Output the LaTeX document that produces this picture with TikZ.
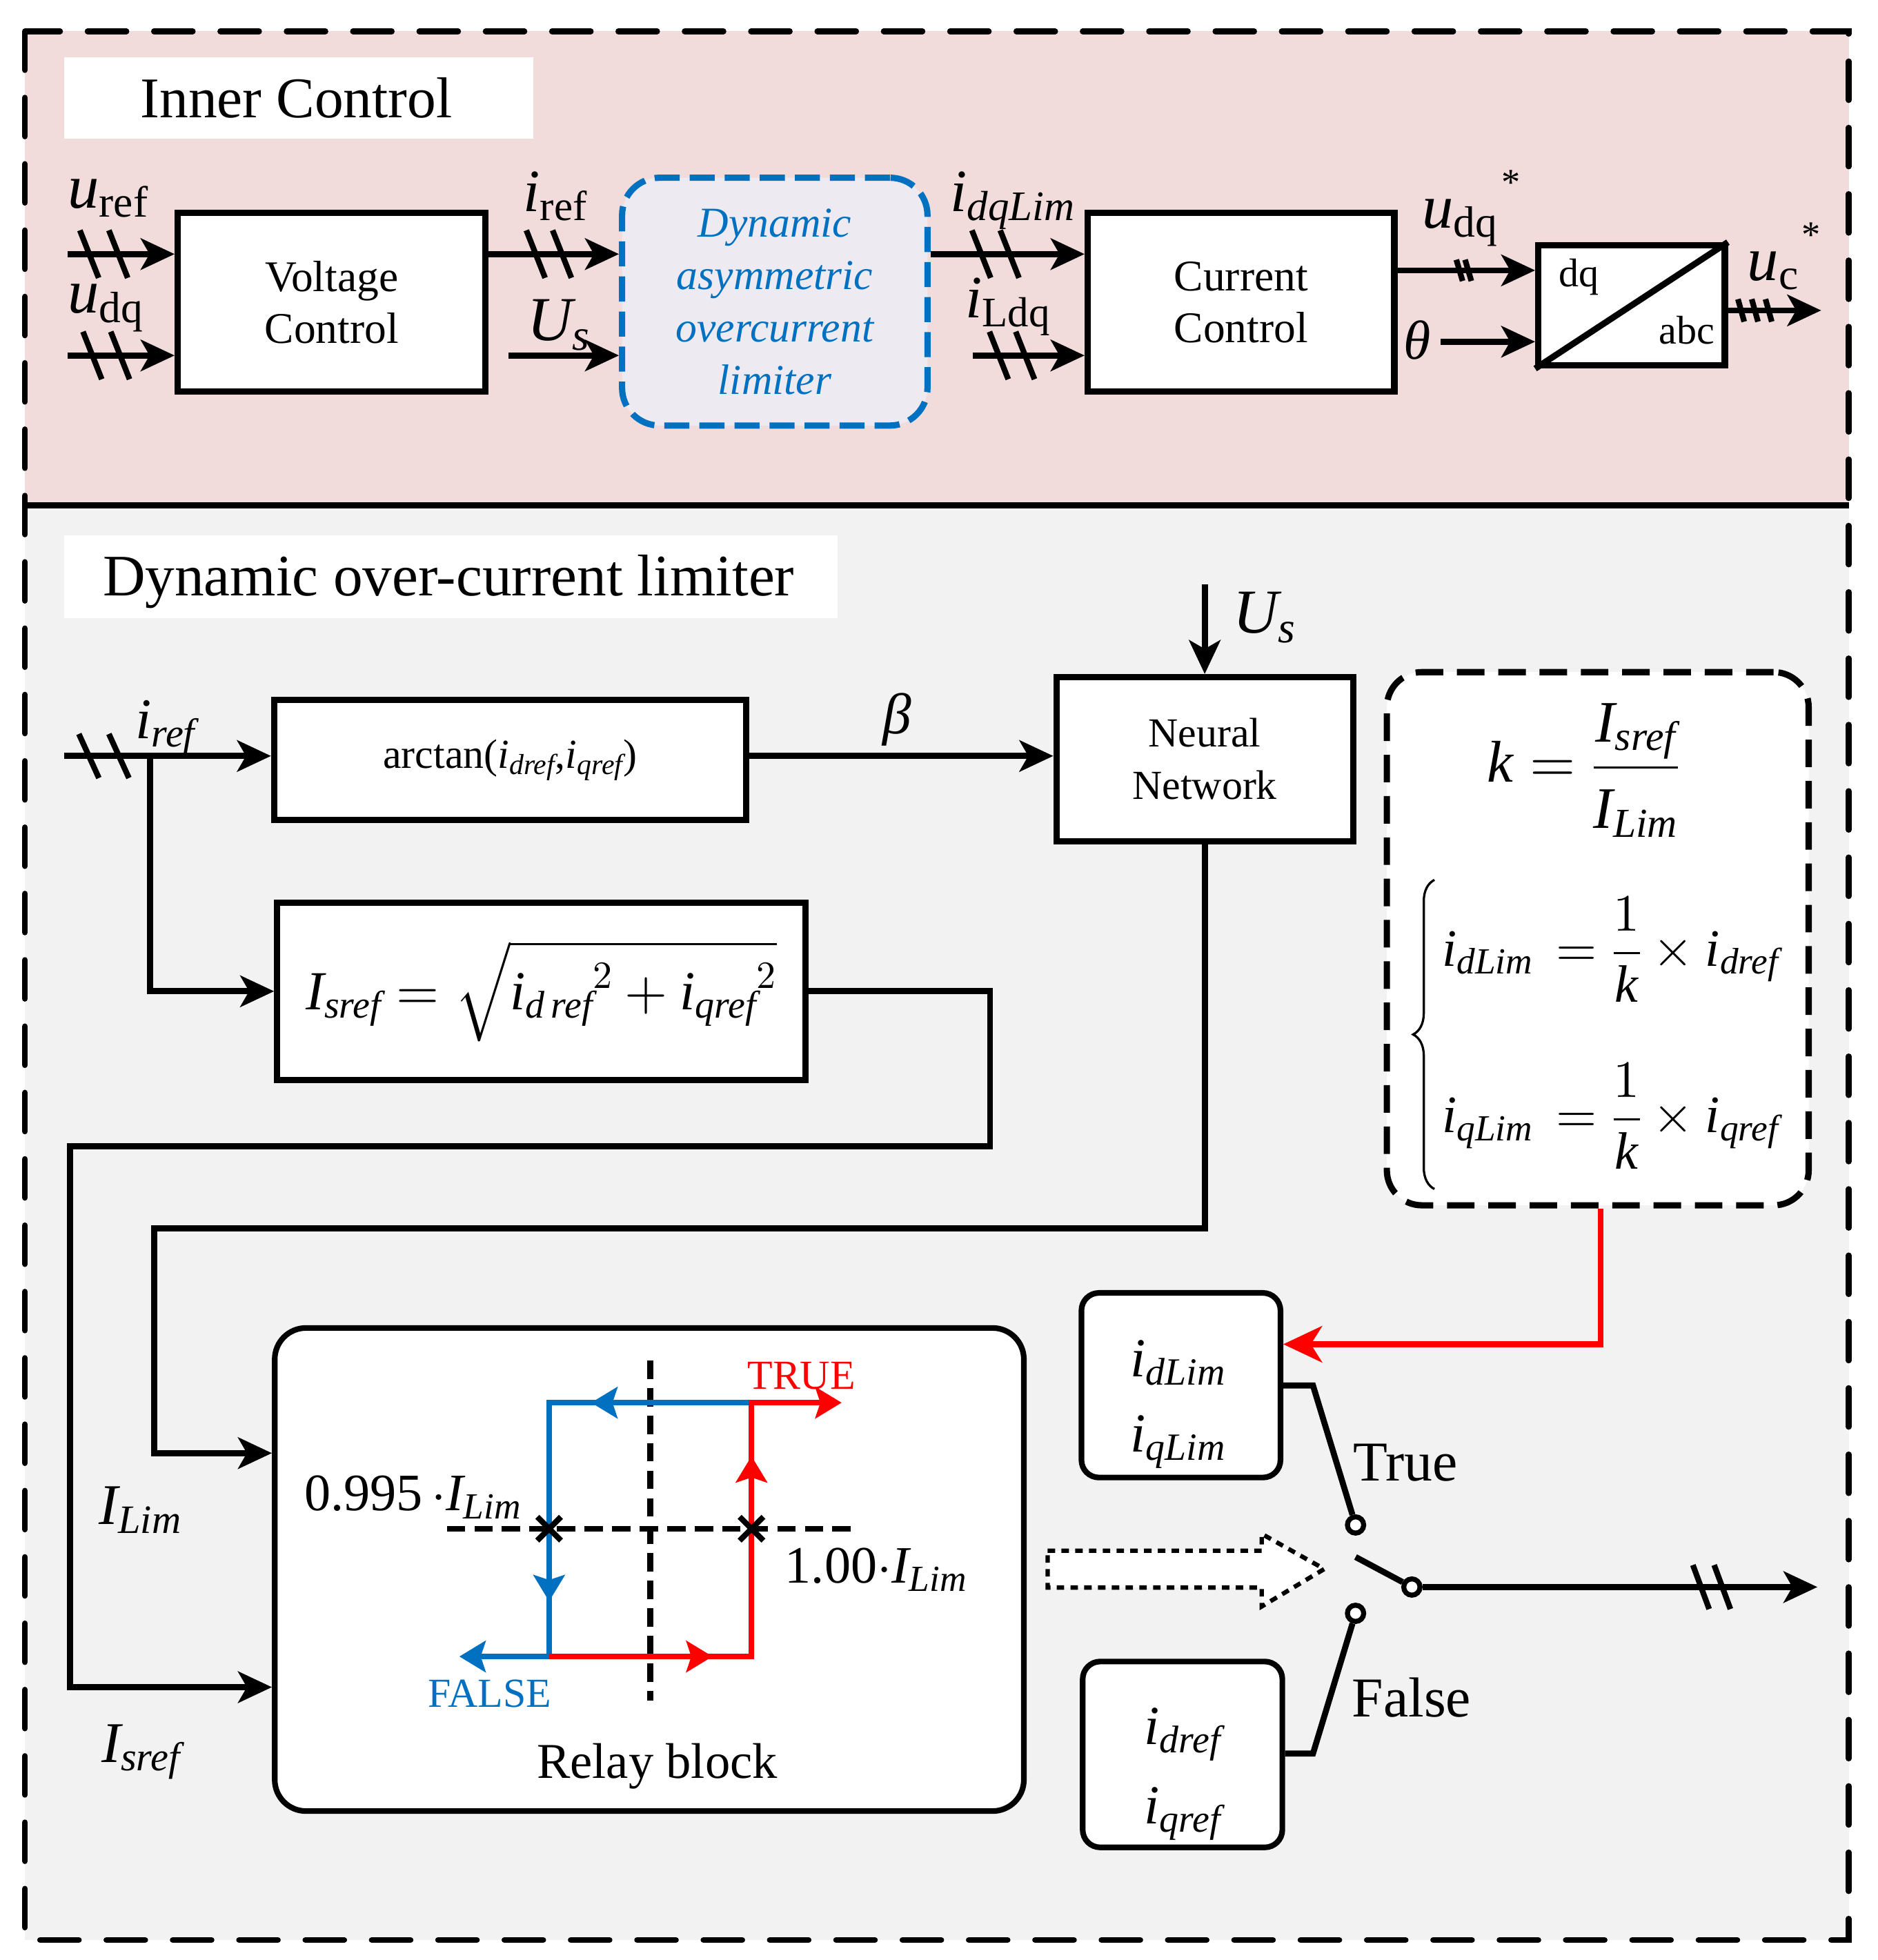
\documentclass[tikz,border=0pt]{standalone}
\usepackage{amsmath}
\usepackage{fontspec}
\setmainfont{Liberation Serif}
\DeclareFontShape{OML}{cmm}{m}{it}{<->cmmi10}{}
\DeclareFontShape{OMS}{cmsy}{m}{n}{<->cmsy10}{}
\DeclareFontShape{OMX}{cmex}{m}{n}{<->cmex10}{}
\DeclareFontShape{OT1}{cmr}{m}{n}{<->cmr10}{}
\usetikzlibrary{arrows.meta,decorations.pathreplacing}
\definecolor{pinkbg}{HTML}{F1DCDB}
\definecolor{graybg}{HTML}{F2F2F2}
\definecolor{limfill}{HTML}{EDEAF1}
\definecolor{myblue}{HTML}{0070C0}
\definecolor{myred}{HTML}{FF0000}
\newcommand\vi[1]{\text{\normalfont\itshape #1}}
\newcommand\vr[1]{\text{\normalfont #1}}
\newcommand\fs[2]{\fontsize{#1}{#2}\selectfont}
\newcommand\tk[4]{\draw[tick] (#1-#3,#2-#4) -- (#1+#3,#2+#4);}
\tikzset{
  box/.style={draw, line width=5pt, fill=white, inner sep=0pt, align=center},
  ln/.style={line width=4.8pt},
  arr/.style={line width=4.8pt, -{Stealth[length=27pt,width=25pt,inset=7pt]}},
  carr/.style={-{Stealth[length=21pt,width=25pt,inset=4pt]}},
  tick/.style={line width=4.5pt},
  lab/.style={inner sep=0pt, anchor=base west},
  bl/.style={draw=myblue, line width=4.6pt},
  rd/.style={draw=myred, line width=4.6pt},
  rdash/.style={line width=4.5pt, dash pattern=on 14.7pt off 7.3pt},
}
\begin{document}
\begin{tikzpicture}[x=1pt,y=-1pt]
\useasboundingbox (0,0) rectangle (1500,1566);
% backgrounds
\fill[pinkbg] (20,25) rectangle (1477,404);
\fill[graybg] (20,404) rectangle (1477,1550);
\draw[line width=4.6pt, line cap=round, dash pattern=on 31pt off 22pt] (20,25) rectangle (1477,1550);
\draw[line width=5pt] (20,404) -- (1477,404);
% titles
\node[fill=white, minimum width=375, minimum height=65, inner sep=0] (tic) at (238.5,78.5) {};
\node[lab, font=\fs{46}{54}] (tict) at (112,94) {Inner Control};
\node[fill=white, minimum width=618, minimum height=66, inner sep=0] (tdl) at (360,461) {};
\node[lab, font=\fs{47}{54}] (tdlt) at (82,476) {Dynamic over-current limiter};

% ===== upper blocks
\node[box, minimum width=246, minimum height=143, font=\fs{35}{41}] (vc) at (265,241.5) {Voltage\\Control};
\node[box, draw=myblue, fill=limfill, line width=5pt, dash pattern=on 20pt off 8pt, rounded corners=30pt,
      minimum width=244, minimum height=198, font=\fs{34}{42}\itshape, text=myblue] (lim) at (619,241) {Dynamic\\asymmetric\\overcurrent\\limiter};
\node[box, minimum width=245, minimum height=143, font=\fs{35}{41}] (cc) at (991.5,241.5) {Current\\Control};
\node[box, minimum width=149, minimum height=96] (dq) at (1303.5,244) {};
\draw[line width=5pt] (dq.south west) -- (dq.north east);
\node[lab, font=\fs{32}{38}] (tdq) at (1245,229) {dq};
\node[inner sep=0pt, anchor=base east, font=\fs{32}{38}] (tabc) at (1370,275) {abc};

% upper connectors
\coordinate (uin1) at (54,203);
\coordinate (uin2) at (54,284);
\coordinate (usin) at (406,284);
\coordinate (ildin) at (777,284);
\coordinate (yud) at (0,216);
\coordinate (thin) at (1151,273);
\coordinate (ucout) at (1455,248);
\draw[arr] (uin1) -- (uin1 -| vc.west);
\draw[arr] (uin2) -- (uin2 -| vc.west);
\draw[arr] (vc.east |- uin1) -- (lim.west |- uin1);
\draw[arr] (usin) -- (usin -| lim.west);
\draw[arr] (lim.east |- uin1) -- (cc.west |- uin1);
\draw[arr] (ildin) -- (ildin -| cc.west);
\draw[arr] (cc.east |- yud) -- (dq.west |- yud);
\draw[arr] (thin) -- (thin -| dq.west);
\draw[arr] (dq.east |- ucout) -- (ucout);
% ticks
\tk{71.3}{203}{7.5}{19}\tk{94.5}{203}{7.5}{19}
\tk{73.8}{284}{7.5}{19}\tk{96}{284}{7.5}{19}
\tk{428}{203}{7.5}{19}\tk{449}{203}{7.5}{19}
\tk{784}{203}{7.5}{19}\tk{806.6}{203}{7.5}{19}
\tk{798}{284}{7.5}{19}\tk{819}{284}{7.5}{19}
\tk{1166}{216}{2.5}{8.5}\tk{1173}{216}{2.5}{8.5}
\tk{1391}{248}{2.5}{9}\tk{1402}{248}{2.5}{9}\tk{1413}{248}{2.5}{9}
% upper labels
\node[lab, font=\fs{50}{60}] (luref) at (54,166) {$\vi{u}_{\vr{ref}}$};
\node[lab, font=\fs{50}{60}] (ludq) at (54,250) {$\vi{u}_{\vr{dq}}$};
\node[lab, font=\fs{48}{58}] (liref) at (418,169) {$\vi{i}_{\vr{ref}}$};
\node[lab, font=\fs{50}{60}] (lUs) at (421,272) {$\vi{U}_{\vi{s}}$};
\node[lab, font=\fs{48}{58}] (lidq) at (759,169) {$\vi{i}_{\vi{dqLim}}$};
\node[lab, font=\fs{48}{58}] (lild) at (771,254) {$\vi{i}_{\vr{Ldq}}$};
\node[lab, font=\fs{50}{60}] (ludqs) at (1136,182) {$\vi{u}_{\vr{dq}}$};
\node[inner sep=0pt, font=\fs{30}{36}] (ast1) at (1207,146) {*};
\node[lab, font=\fs{44}{52}] (ltheta) at (1121,287) {\itshape θ};
\node[lab, font=\fs{50}{60}] (luc) at (1396,224) {$\vi{u}_{\vr{c}}$};
\node[inner sep=0pt, font=\fs{30}{36}] (ast2) at (1447,188) {*};

% ===== lower section
\node[box, minimum width=377, minimum height=96, font=\fs{33}{40}] (atan) at (407.5,607) {arctan($\vi{i}_{\vi{dref}}$,$\vi{i}_{\vi{qref}}$)};
\node[box, minimum width=422, minimum height=142, font=\fs{44}{52}] (isr) at (432.5,792)
  {$\vi{I}_{\vi{sref}}=\sqrt{{\vi{i}_{\vi{d\,ref}}}^{2}+{\vi{i}_{\vi{qref}}}^{2}}$};
\node[box, minimum width=237, minimum height=131, font=\fs{33}{42}] (nn) at (962.5,606.5) {Neural\\Network};
\node[box, line width=4.5pt, rounded corners=25pt, minimum width=598.5, minimum height=386] (relay) at (518.75,1254) {};

\coordinate (irin) at (51,604);
\coordinate (br) at (120,604);
\coordinate (usn) at (962.5,467);
\coordinate (lp1) at (791,916);
\coordinate (lp2) at (56,1348);
\coordinate (lp3) at (123,981.5);
\coordinate (lp4) at (123,1161);
\draw[arr] (irin) -- (irin -| atan.west);
\draw[arr] (br) |- (isr.west);
\draw[arr] (atan.east |- irin) -- (nn.west |- irin);
\draw[arr] (usn) -- (nn.north);
\draw[arr] (isr.east) -| (lp1) -| (lp2) -- (lp2 -| relay.west);
\draw[arr] (nn.south) |- (lp3) -- (lp4) -- (lp4 -| relay.west);
\tk{71}{604}{8}{17.6}\tk{95}{604}{8}{17.6}

\node[lab, font=\fs{46}{56}] (lir) at (108,590) {$\vi{i}_{\vi{ref}}$};
\node[inner sep=0pt, font=\fs{46}{56}] (lbeta) at (717,575) {\itshape β};
\node[lab, font=\fs{50}{60}] (lUs2) at (985,506) {$\vi{U}_{\vi{s}}$};
\node[lab, font=\fs{46}{56}] (lILim) at (79,1218) {$\vi{I}_{\vi{Lim}}$};
\node[lab, font=\fs{46}{56}] (lIsr) at (81,1408) {$\vi{I}_{\vi{sref}}$};

% relay internals
\draw[rdash] (519.5,1087) -- (519.5,1358.5);
\draw[rdash] (357,1221.4) -- (682.5,1221.4);
\draw[bl, carr] (600.4,1120.7) -- (438.7,1120.7) -- (438.7,1323.5) -- (367,1323.5);
\draw[bl, carr] (505,1120.7) -- (472.3,1120.7);
\draw[bl, carr] (438.7,1245) -- (438.7,1279.4);
\draw[rd, carr] (438.7,1323.5) -- (600.4,1323.5) -- (600.4,1120.7) -- (672.4,1120.7);
\draw[rd, carr] (535,1323.5) -- (569.3,1323.5);
\draw[rd, carr] (600.4,1200) -- (600.4,1163.4);
\draw[line width=4.5pt] (429.2,1211.9) -- (448.2,1230.9) (429.2,1230.9) -- (448.2,1211.9);
\draw[line width=4.5pt] (590.9,1211.9) -- (609.9,1230.9) (590.9,1230.9) -- (609.9,1211.9);
\node[lab, font=\fs{33}{40}, text=myred] (tT) at (597,1110) {TRUE};
\node[lab, font=\fs{33}{40}, text=myblue] (tF) at (342,1364) {FALSE};
\node[lab, font=\fs{42}{50}] (t995) at (243,1207) {0.995\,$\cdot\vi{I}_{\vi{Lim}}$};
\node[lab, font=\fs{42}{50}] (t100) at (627,1265) {1.00$\cdot\vi{I}_{\vi{Lim}}$};
\node[anchor=base, inner sep=0pt, font=\fs{40}{48}] (trel) at (525,1420.5) {Relay block};

% formula box
\node[draw, fill=white, line width=5pt, dash pattern=on 22pt off 11pt, rounded corners=28pt,
      minimum width=337, minimum height=426, inner sep=0] (fbox) at (1276.5,750) {};
\node[anchor=base, inner sep=0pt, font=\fs{47}{54}] (keq) at (1265,625)
  {$\vi{k}=\dfrac{\vi{I}_{\vi{sref}}\rule[-8pt]{0pt}{8pt}}{\rule{0pt}{42pt}\vi{I}_{\vi{Lim}}}$};
\node[lab, font=\fs{42}{50}] (eq1) at (1152,772) {$\vi{i}_{\vi{dLim}}\,=\dfrac{1}{\vi{k}}\times\vi{i}_{\vi{dref}}$};
\node[lab, font=\fs{42}{50}] (eq2) at (1152,905) {$\vi{i}_{\vi{qLim}}\,=\dfrac{1}{\vi{k}}\times\vi{i}_{\vi{qref}}$};
\draw[line width=1.8pt, decorate, decoration={brace, amplitude=17pt}] (1146,950) -- (1146,703);

% small boxes and switch
\node[box, line width=4.5pt, rounded corners=14pt, minimum width=159, minimum height=147.5] (sb1) at (943.5,1106.75) {};
\node[lab, font=\fs{44}{52}] (tb1a) at (903,1100) {$\vi{i}_{\vi{dLim}}$};
\node[lab, font=\fs{44}{52}] (tb1b) at (903,1160) {$\vi{i}_{\vi{qLim}}$};
\node[box, line width=4.5pt, rounded corners=14pt, minimum width=159.5, minimum height=148.5] (sb2) at (944.75,1401.75) {};
\node[lab, font=\fs{44}{52}] (tb2a) at (914,1394) {$\vi{i}_{\vi{dref}}$};
\node[lab, font=\fs{44}{52}] (tb2b) at (914,1457) {$\vi{i}_{\vi{qref}}$};

\coordinate (rd1) at (1279,1074);
\draw[draw=myred, line width=4.5pt, -{Stealth[length=31pt,width=29pt,inset=9pt]}] (fbox.south -| rd1) -- (rd1) -- (rd1 -| sb1.east);

\node[circle, draw, fill=white, line width=4pt, minimum size=13, inner sep=0] (swT) at (1083,1218.4) {};
\node[circle, draw, fill=white, line width=4pt, minimum size=13, inner sep=0] (swF) at (1083,1289) {};
\node[circle, draw, fill=white, line width=4pt, minimum size=13, inner sep=0] (swP) at (1128,1268) {};
\coordinate (k1) at (1049,1107);
\coordinate (k2) at (1049,1401);
\coordinate (blade) at (1083,1244);
\coordinate (outp) at (1452,1268);
\draw[ln] (sb1.east |- k1) -- (k1) -- (swT);
\draw[ln] (sb2.east |- k2) -- (k2) -- (swF);
\draw[ln] (blade) -- (swP);
\draw[arr] (swP) -- (outp);
\tk{1359}{1268}{6.5}{17.6}\tk{1376}{1268}{6.5}{17.6}
\node[lab, font=\fs{45}{54}] (tTrue) at (1081,1183) {True};
\node[lab, font=\fs{45}{54}] (tFalse) at (1080,1371.5) {False};

% hollow dotted arrow
\draw[line width=3.5pt, dash pattern=on 6pt off 5pt, fill=white]
  (837,1239) -- (1008,1239) -- (1008,1225.5) -- (1058,1253.6) -- (1008,1283.5) -- (1008,1268.4) -- (837,1268.4) -- cycle;
\end{tikzpicture}
\end{document}
